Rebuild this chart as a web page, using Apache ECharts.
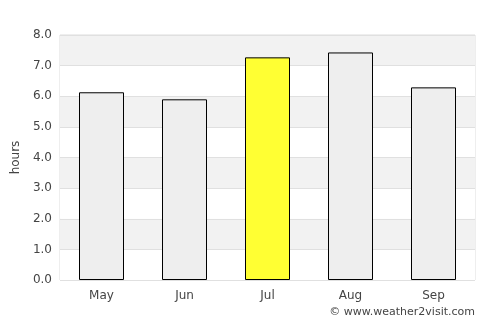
<!DOCTYPE html>
<html>
<head>
<meta charset="utf-8">
<script src="https://cdn.jsdelivr.net/npm/echarts@6/dist/echarts.min.js"></script>
<style>
  html, body { margin: 0; padding: 0; background: #fff; }
  #chart { width: 500px; height: 325px; }
</style>
</head>
<body>
<div id="chart"></div>
<script>
var months = ['May', 'Jun', 'Jul', 'Aug', 'Sep'];
var hours = [6.13, 5.9, 7.27, 7.43, 6.29];
var highlight = 'Jul';

loadSunshine();

function loadSunshine() {
    var chart = echarts.init(document.getElementById('chart'));
    var font = 'DejaVu Sans';

    var barData = months.map(function (m, i) {
        return {
            value: hours[i],
            itemStyle: { color: m === highlight ? '#ffff33' : '#eeeeee' }
        };
    });

    var option = {
        animation: false,
        textStyle: { fontFamily: font },
        grid: { left: 60, right: 25, top: 35, bottom: 45, containLabel: false,
                show: true, borderColor: '#dddddd', borderWidth: 1 },
        xAxis: {
            type: 'category',
            data: months,
            axisLine: { show: false },
            axisTick: { show: false },
            axisLabel: { color: '#444444', fontSize: 12, margin: 10, fontFamily: font }
        },
        yAxis: {
            type: 'value',
            min: 0,
            max: 8,
            interval: 1,
            name: 'hours',
            nameLocation: 'middle',
            nameGap: 33,
            nameTextStyle: { color: '#444444', fontSize: 12, fontFamily: font },
            axisLine: { show: false },
            axisTick: { show: false },
            axisLabel: {
                color: '#444444', fontSize: 12, margin: 8, fontFamily: font,
                formatter: function (v) { return v.toFixed(1); }
            },
            splitLine: { lineStyle: { color: '#e0e0e0', width: 1 } },
            splitArea: { show: true, areaStyle: { color: ['#ffffff', '#f2f2f2'] } }
        },
        series: [{
            type: 'bar',
            data: barData,
            barWidth: 45,
            itemStyle: { borderColor: '#000000', borderWidth: 1 }
        }],
        graphic: [{
            type: 'text',
            right: 25,
            top: 307,
            style: { text: '© www.weather2visit.com', fill: '#444444', fontSize: 11, fontFamily: font }
        }]
    };

    chart.setOption(option);
}
</script>
</body>
</html>
